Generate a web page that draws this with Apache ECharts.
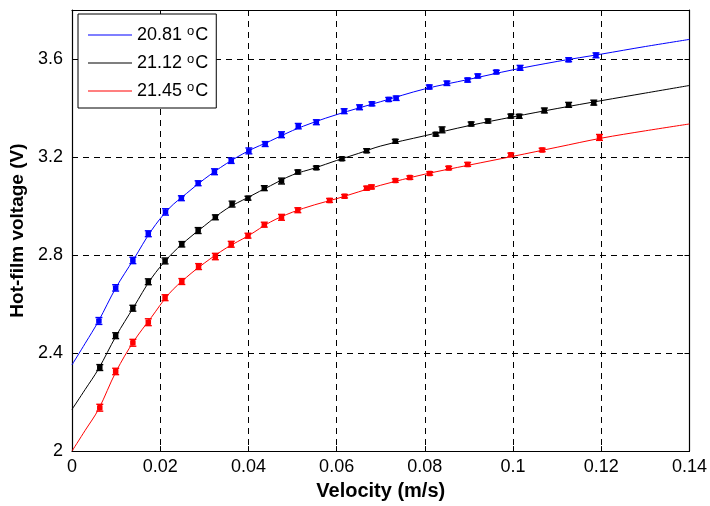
<!DOCTYPE html>
<html>
<head>
<meta charset="utf-8">
<script src="https://cdn.jsdelivr.net/npm/echarts@6/dist/echarts.min.js"></script>
<style>
  html, body { margin: 0; padding: 0; background: #fff; }
  #chart { width: 710px; height: 506px; }
</style>
</head>
<body>
<div id="chart"></div>
<script>
// Calibration data: hot-film voltage vs. flow velocity at three water temperatures
const temperatures = ['20.81', '21.12', '21.45'];
const colors = ['#0000ff', '#000000', '#ff0000'];

const xTickLabels = ['0', '0.02', '0.04', '0.06', '0.08', '0.1', '0.12', '0.14'];
const yTickLabels = ['2', '2.4', '2.8', '3.2', '3.6'];

// measured points (velocity m/s, voltage V, error V)
const velBlue = [0.0061, 0.0099, 0.0138, 0.0173, 0.0212, 0.0248, 0.0286, 0.0323, 0.0361, 0.0401, 0.0438, 0.0475, 0.0513, 0.0554, 0.0617, 0.0652, 0.0680, 0.0718, 0.0735, 0.0810, 0.0850, 0.0897, 0.0920, 0.0962, 0.1016, 0.1126, 0.1188];
const voltBlue = [2.531, 2.666, 2.778, 2.887, 2.976, 3.032, 3.093, 3.140, 3.185, 3.225, 3.253, 3.291, 3.326, 3.342, 3.387, 3.403, 3.417, 3.435, 3.440, 3.486, 3.501, 3.514, 3.531, 3.547, 3.564, 3.597, 3.615];
const errBlue = [0.014, 0.013, 0.013, 0.012, 0.013, 0.010, 0.010, 0.012, 0.011, 0.012, 0.010, 0.012, 0.011, 0.010, 0.010, 0.010, 0.008, 0.008, 0.009, 0.008, 0.009, 0.008, 0.008, 0.007, 0.010, 0.008, 0.010];

const velBlack = [0.0063, 0.0099, 0.0138, 0.0173, 0.0211, 0.0249, 0.0286, 0.0325, 0.0363, 0.0399, 0.0436, 0.0475, 0.0512, 0.0554, 0.0612, 0.0668, 0.0733, 0.0825, 0.0839, 0.0905, 0.0943, 0.0995, 0.1014, 0.1071, 0.1126, 0.1183];
const voltBlack = [2.341, 2.471, 2.583, 2.691, 2.776, 2.844, 2.900, 2.954, 3.008, 3.032, 3.073, 3.102, 3.139, 3.156, 3.193, 3.226, 3.264, 3.293, 3.311, 3.335, 3.347, 3.367, 3.366, 3.390, 3.413, 3.422];
const errBlack = [0.012, 0.012, 0.012, 0.012, 0.012, 0.011, 0.012, 0.010, 0.012, 0.008, 0.010, 0.012, 0.008, 0.007, 0.007, 0.008, 0.008, 0.007, 0.012, 0.008, 0.008, 0.008, 0.008, 0.010, 0.010, 0.010];

const velRed = [0.0063, 0.0099, 0.0138, 0.0173, 0.0211, 0.0249, 0.0287, 0.0325, 0.0361, 0.0399, 0.0436, 0.0475, 0.0512, 0.0584, 0.0618, 0.0668, 0.0679, 0.0733, 0.0766, 0.0811, 0.0854, 0.0897, 0.0995, 0.1066, 0.1196];
const voltRed = [2.177, 2.325, 2.442, 2.526, 2.626, 2.692, 2.753, 2.794, 2.844, 2.879, 2.924, 2.954, 2.983, 3.023, 3.040, 3.073, 3.078, 3.104, 3.116, 3.133, 3.155, 3.170, 3.209, 3.229, 3.280];
const errRed = [0.014, 0.013, 0.014, 0.014, 0.012, 0.012, 0.012, 0.013, 0.012, 0.010, 0.010, 0.012, 0.010, 0.008, 0.007, 0.008, 0.008, 0.007, 0.007, 0.007, 0.007, 0.008, 0.007, 0.007, 0.012];

// fitted calibration curves
const fitVel = [0, 0.003, 0.006, 0.01, 0.014, 0.018, 0.022, 0.026, 0.03, 0.035, 0.04, 0.045, 0.05, 0.055, 0.06, 0.065, 0.07, 0.08, 0.09, 0.1, 0.11, 0.12, 0.13, 0.14];
const fitBlue = [2.352, 2.440, 2.530, 2.668, 2.783, 2.900, 2.990, 3.052, 3.110, 3.173, 3.225, 3.266, 3.308, 3.343, 3.373, 3.400, 3.426, 3.478, 3.517, 3.556, 3.590, 3.620, 3.651, 3.680];
const fitBlack = [2.170, 2.252, 2.335, 2.470, 2.588, 2.705, 2.793, 2.861, 2.919, 2.988, 3.036, 3.083, 3.127, 3.155, 3.186, 3.215, 3.245, 3.287, 3.328, 3.364, 3.398, 3.430, 3.461, 3.492];
const fitRed = [2.000, 2.085, 2.170, 2.325, 2.448, 2.546, 2.642, 2.710, 2.767, 2.829, 2.879, 2.935, 2.975, 3.005, 3.030, 3.058, 3.085, 3.130, 3.167, 3.203, 3.240, 3.277, 3.307, 3.335];

const measured = [
  [velBlue, voltBlue, errBlue],
  [velBlack, voltBlack, errBlack],
  [velRed, voltRed, errRed]
];
const fits = [fitBlue, fitBlack, fitRed];

const FONT = '"Liberation Sans", Arial, sans-serif';

function zip3(a, b, c) { return a.map((v, i) => [v, b[i], c[i]]); }
function zip2(a, b) { return a.map((v, i) => [v, b[i]]); }

// marker with vertical error bar and caps
function renderPoint(params, api) {
  const x = api.value(0), y = api.value(1), e = api.value(2);
  const p = api.coord([x, y]);
  const hi = api.coord([x, y + e]);
  const lo = api.coord([x, y - e]);
  const c = api.visual('color');
  const cw = 3.5, s = 5.5;
  return {
    type: 'group',
    children: [
      { type: 'line', shape: { x1: p[0], y1: hi[1], x2: p[0], y2: lo[1] }, style: { stroke: c, lineWidth: 1 } },
      { type: 'line', shape: { x1: p[0] - cw, y1: hi[1], x2: p[0] + cw, y2: hi[1] }, style: { stroke: c, lineWidth: 1.4 } },
      { type: 'line', shape: { x1: p[0] - cw, y1: lo[1], x2: p[0] + cw, y2: lo[1] }, style: { stroke: c, lineWidth: 1.4 } },
      { type: 'rect', shape: { x: p[0] - s / 2, y: p[1] - s / 2, width: s, height: s, r: 1 }, style: { fill: c } }
    ]
  };
}

const series = [];
temperatures.forEach((t, i) => {
  series.push({
    name: t,
    type: 'line',
    data: zip2(fitVel, fits[i]),
    smooth: 0.35,
    symbol: 'none',
    showSymbol: false,
    lineStyle: { color: colors[i], width: 1 },
    itemStyle: { color: colors[i] },
    z: 3,
    silent: true
  });
});
temperatures.forEach((t, i) => {
  const m = measured[i];
  series.push({
    name: t + ' data',
    type: 'custom',
    data: zip3(m[0], m[1], m[2]),
    renderItem: renderPoint,
    itemStyle: { color: colors[i] },
    encode: { x: 0, y: 1 },
    z: 4,
    silent: true
  });
});

const dashed = { show: true, lineStyle: { color: '#000', type: [6, 5], width: 1 } };

const option = {
  animation: false,
  backgroundColor: '#fff',
  grid: { left: 72, right: 20, top: 10, bottom: 51, show: false },
  legend: {
    data: temperatures,
    orient: 'vertical',
    left: 78,
    top: 14,
    padding: [11, 8, 8, 10],
    itemGap: 9,
    itemWidth: 44,
    itemHeight: 1.2,
    icon: 'rect',
    backgroundColor: '#fff',
    borderColor: '#000',
    borderWidth: 1,
    borderRadius: 0,
    formatter: name => `{n|${name} }{s|o}{n|C}`,
    textStyle: {
      fontFamily: FONT,
      color: '#000',
      fontSize: 18,
      rich: {
        n: { fontFamily: FONT, fontSize: 18, color: '#000' },
        s: { fontFamily: FONT, fontSize: 13, color: '#000', verticalAlign: 'top', padding: [0, 1, 7, 0] }
      }
    }
  },
  xAxis: [{
    type: 'value',
    min: 0, max: 0.14, interval: 0.02,
    name: 'Velocity (m/s)',
    nameLocation: 'middle',
    nameGap: 27,
    nameTextStyle: { fontFamily: FONT, fontSize: 20, fontWeight: 'bold', color: '#000' },
    axisLine: { show: true, onZero: false, lineStyle: { color: '#000', width: 1.2 } },
    axisTick: { show: true, inside: true, length: 5, lineStyle: { color: '#000' } },
    axisLabel: {
      margin: 7,
      fontFamily: FONT, fontSize: 18, color: '#000',
      formatter: (v) => { const i = Math.round(v / 0.02); return Math.abs(v - i * 0.02) < 1e-9 ? (xTickLabels[i] ?? '') : ''; }
    },
    splitLine: dashed
  }, {
    type: 'value', position: 'top',
    min: 0, max: 0.14, interval: 0.02,
    axisLine: { show: true, onZero: false, lineStyle: { color: '#000', width: 1.2 } },
    axisTick: { show: true, inside: true, length: 5, lineStyle: { color: '#000' } },
    axisLabel: { show: false },
    splitLine: { show: false }
  }],
  yAxis: [{
    type: 'value',
    min: 2, max: 3.8, interval: 0.4,
    name: 'Hot-film voltage (V)',
    nameLocation: 'middle',
    nameGap: 37,
    nameTextStyle: { fontFamily: FONT, fontSize: 19, fontWeight: 'bold', color: '#000' },
    axisLine: { show: true, onZero: false, lineStyle: { color: '#000', width: 1.2 } },
    axisTick: { show: true, inside: true, length: 5, lineStyle: { color: '#000' } },
    axisLabel: {
      margin: 9,
      fontFamily: FONT, fontSize: 18, color: '#000',
      showMaxLabel: false,
      formatter: (v) => { const i = Math.round((v - 2) / 0.4); return Math.abs(v - (2 + i * 0.4)) < 1e-9 ? (yTickLabels[i] ?? '') : ''; }
    },
    splitLine: dashed
  }, {
    type: 'value', position: 'right',
    min: 2, max: 3.8, interval: 0.4,
    axisLine: { show: true, onZero: false, lineStyle: { color: '#000', width: 1.2 } },
    axisTick: { show: true, inside: true, length: 5, lineStyle: { color: '#000' } },
    axisLabel: { show: false },
    splitLine: { show: false }
  }],
  series: series
};

const chart = echarts.init(document.getElementById('chart'), null, { renderer: 'canvas' });
chart.setOption(option);
</script>
</body>
</html>
